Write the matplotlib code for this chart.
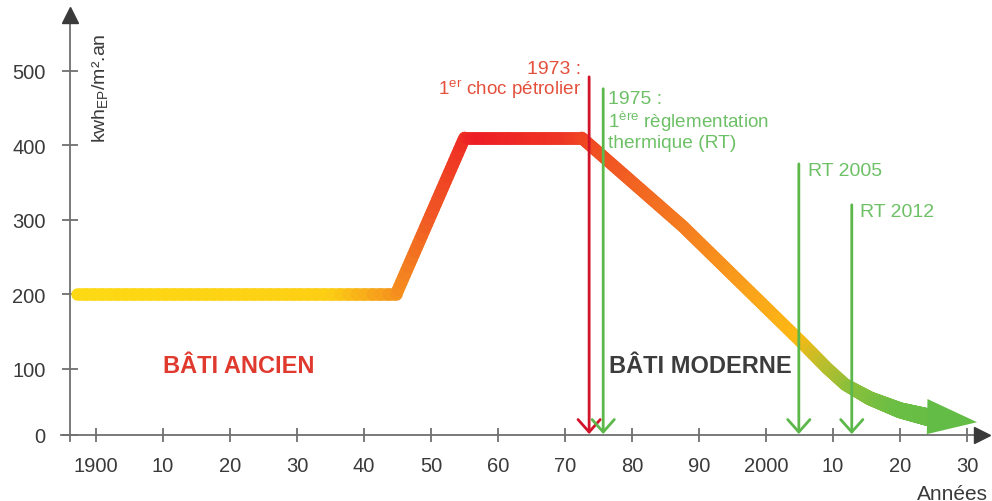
import numpy as np
import matplotlib
matplotlib.use("Agg")
import matplotlib.pyplot as plt
from matplotlib.collections import LineCollection
from matplotlib.colors import LinearSegmentedColormap

plt.rcParams['font.family'] = ['Liberation Sans', 'DejaVu Sans']
plt.rcParams['mathtext.fontset'] = 'custom'
plt.rcParams['mathtext.rm'] = 'Liberation Sans'
plt.rcParams['mathtext.it'] = 'Liberation Sans:italic'

# consumption curve (year, kWh EP / m2.an)
years = [1897.2, 1944.8, 1955.0, 1972.5, 1987.6, 2005.0, 2011.8, 2015.5, 2020.0, 2024.4]
conso = [200, 200, 410, 410, 291, 138, 76, 55, 37, 26]

# events
event_x = [1973.6, 1975.7, 2004.9, 2012.8]
event_top = [492, 476, 375, 320]
event_col = ['#D2142B', '#5CB84A', '#5CB84A', '#5CB84A']

xticks = [1900, 1910, 1920, 1930, 1940, 1950, 1960, 1970, 1980, 1990, 2000, 2010, 2020, 2030]
xlabels = ['1900', '10', '20', '30', '40', '50', '60', '70', '80', '90', '2000', '10', '20', '30']
yticks = [0, 100, 200, 300, 400, 500]

# gradient along the curve (year -> colour)
grad_years = [1897, 1935, 1944, 1950, 1957, 1970, 1975, 1988, 2000, 2005, 2009, 2013, 2020, 2032]
grad_cols = ['#FDD914', '#FDCF14', '#F59A1D', '#F15A24', '#ED1C24', '#EE3524', '#F04E23',
             '#F47C20', '#FBA919', '#FDB913', '#BDBE2B', '#8DBF3A', '#6BBE44', '#62BC46']


# the original y axis is squeezed between 0 and 100
def fwd(v):
    v = np.asarray(v, dtype=float)
    return np.where(v < 100, v * 0.662, 66.2 + (v - 100) * 0.744)


def inv(p):
    p = np.asarray(p, dtype=float)
    return np.where(p < 66.2, p / 0.662, 100 + (p - 66.2) / 0.744)


fig = plt.figure(figsize=(9.92, 5.02), dpi=100)
ax = fig.add_axes([0, 0, 1, 1])
ax.set_yscale('function', functions=(fwd, inv))
ax.set_xlim(1885.67, 2033.73)
ax.set_ylim(-100, 596.6)

axis_col = '#707070'
for s in ['top', 'right']:
    ax.spines[s].set_visible(False)
ax.spines['left'].set_position(('data', 1896.1))
ax.spines['left'].set_bounds(-9.5, 569)
ax.spines['bottom'].set_position(('data', 0))
ax.spines['bottom'].set_bounds(1894.7, 2031.5)
for s in ['left', 'bottom']:
    ax.spines[s].set_color(axis_col)
    ax.spines[s].set_linewidth(1.3)
ax.plot([1896.1], [575], marker='^', ms=11, color='#3a3a3a', clip_on=False, zorder=5)
ax.plot([2032.2], [0], marker='>', ms=11, color='#3a3a3a', clip_on=False, zorder=5)

ax.set_xticks(xticks)
ax.set_xticklabels(xlabels)
ax.set_yticks(yticks)
ax.set_yticklabels([str(v) for v in yticks])
ax.minorticks_off()
ax.tick_params(axis='x', direction='inout', length=10, width=1.3, color=axis_col,
               labelsize=14.5, labelcolor='#3a3a3a', pad=10)
ax.tick_params(axis='y', direction='inout', length=11, width=1.3, color=axis_col,
               labelsize=14.5, labelcolor='#3a3a3a', pad=12)

# thick gradient curve
cmap = LinearSegmentedColormap.from_list(
    'g', list(zip([(y - grad_years[0]) / (grad_years[-1] - grad_years[0]) for y in grad_years], grad_cols)))
px, py = [], []
for i in range(len(years) - 1):
    t = np.linspace(0, 1, 40, endpoint=False)
    px.extend(years[i] + t * (years[i + 1] - years[i]))
    py.extend(conso[i] + t * (conso[i + 1] - conso[i]))
px.append(years[-1])
py.append(conso[-1])
px = np.array(px)
py = np.array(py)
segs = np.stack([np.column_stack([px[:-1], py[:-1]]), np.column_stack([px[1:], py[1:]])], axis=1)
mid = (px[:-1] + px[1:]) / 2
lw = np.where(mid < 2012, 9.0, 9.0 + (mid - 2012) / (2024.4 - 2012) * 3.8)
lc = LineCollection(segs, colors=cmap((mid - grad_years[0]) / (grad_years[-1] - grad_years[0])),
                    linewidths=lw, capstyle='round', joinstyle='round', zorder=3)
ax.add_collection(lc)

# arrow head at the end of the curve
hx, hy = years[-1], conso[-1]
head_len = 7.1
ax.fill([hx - 0.3, hx + head_len, hx - 0.4], [hy + 28, hy - 7, hy - 25],
        color='#62BC46', lw=0, zorder=3)

# event arrows
for x, top, c in zip(event_x, event_top, event_col):
    ax.annotate('', xy=(x, 1), xytext=(x, top),
                arrowprops=dict(arrowstyle='->,head_length=0.45,head_width=0.4', color=c,
                                lw=2.0, shrinkA=0, shrinkB=0, mutation_scale=20),
                zorder=4)

red_txt = '#E4503C'
green_txt = '#6DC066'
ax.text(1972.4, 503, '1973 :', ha='right', va='center', fontsize=14, color=red_txt)
ax.text(1972.4, 476, '1$^{\\mathregular{er}}$ choc pétrolier', ha='right', va='center',
        fontsize=13.6, color=red_txt)
ax.text(1976.4, 463, '1975 :', ha='left', va='center', fontsize=14, color=green_txt)
ax.text(1976.4, 433, '1$^{\\mathregular{ère}}$ règlementation', ha='left', va='center',
        fontsize=13.6, color=green_txt)
ax.text(1976.4, 404, 'thermique (RT)', ha='left', va='center', fontsize=13.8, color=green_txt)
ax.text(2006.2, 366, 'RT 2005', ha='left', va='center', fontsize=14, color=green_txt)
ax.text(2014.1, 311, 'RT 2012', ha='left', va='center', fontsize=14, color=green_txt)

ax.text(1910.0, 104, 'BÂTI ANCIEN', ha='left', va='center', fontsize=17, fontweight='bold',
        color='#E03A2F')
ax.text(1976.6, 104, 'BÂTI MODERNE', ha='left', va='center', fontsize=17, fontweight='bold',
        color='#3C3C3C')

ax.text(1900.6, 478, 'kwh$_{\\mathregular{EP}}$/m².an', rotation=90, ha='center', va='center',
        fontsize=14, color='#3a3a3a')
ax.text(2022.5, -88, 'Années', ha='left', va='center', fontsize=15, color='#3a3a3a')

fig.savefig('out.png', dpi=100)
